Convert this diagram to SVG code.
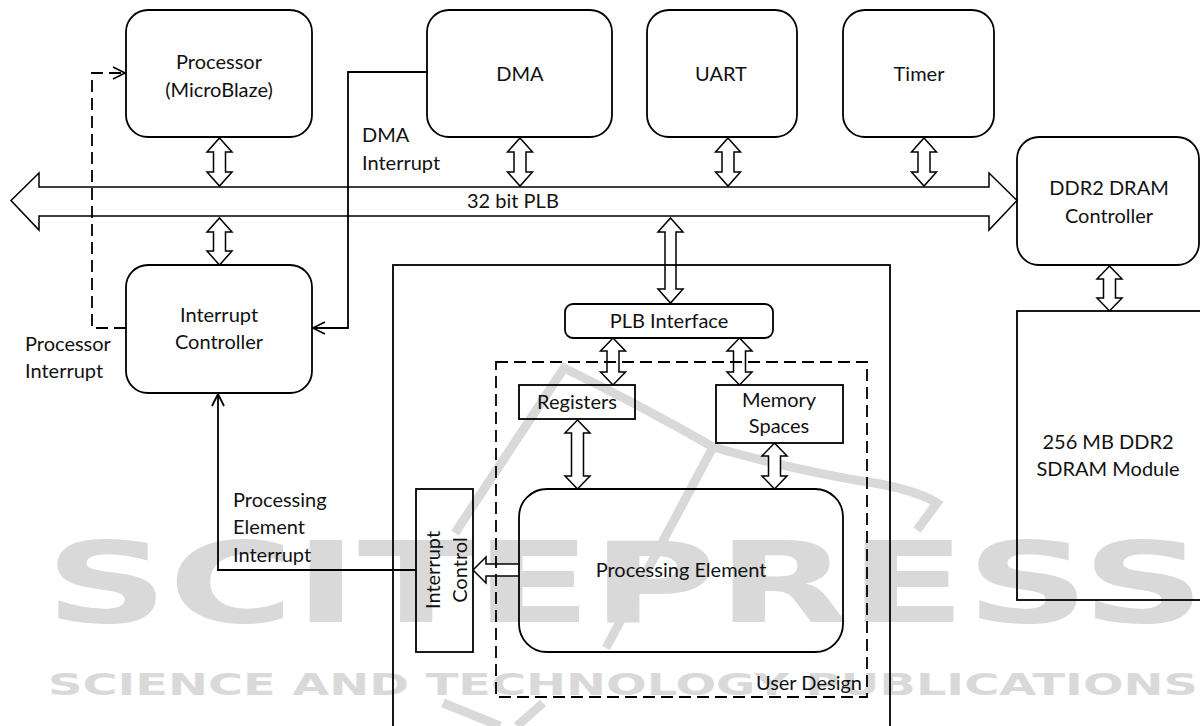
<svg xmlns="http://www.w3.org/2000/svg" width="1200" height="726" viewBox="0 0 1200 726">
<defs>
<style>
.box{fill:none;stroke:#000;stroke-width:1.8}
.dbl{fill:#fff;stroke:#000;stroke-width:1.5;stroke-linejoin:miter}
.ln{fill:none;stroke:#000;stroke-width:1.8}
.dash{fill:none;stroke:#000;stroke-width:1.8;stroke-dasharray:12 6}
.t{font-family:Lato,"Open Sans","Liberation Sans",sans-serif;font-size:20px;fill:#111}
.c{text-anchor:middle}
.wm{fill:#d9d9d9;font-family:"DejaVu Sans","Liberation Sans",sans-serif;font-weight:bold}
.wml{fill:none;stroke:#d9d9d9;stroke-width:9;stroke-linecap:butt}
</style>
<marker id="open" viewBox="0 0 14 14" refX="13" refY="7" markerWidth="14" markerHeight="14" markerUnits="userSpaceOnUse" orient="auto">
<path d="M1,1 L13,7 L1,13" fill="none" stroke="#000" stroke-width="1.8"/>
</marker>
</defs>
<rect width="1200" height="726" fill="#fff"/>

<g id="watermark">
<text class="wm" x="45" y="622" font-size="112" textLength="1160" lengthAdjust="spacingAndGlyphs">SCITEPRESS</text>
<text class="wm" x="48" y="695" font-size="31" textLength="1150" lengthAdjust="spacingAndGlyphs">SCIENCE AND TECHNOLOGY PUBLICATIONS</text>
<path class="wml" d="M455,533 L564,368 Q640,405 713,447 Q800,472 880,484 Q920,492 937,503 L917,530"/>
<path class="wml" d="M713,447 L606,648"/>
<path class="wml" d="M443,703 L500,726 M543,703 L517,726"/>
</g>

<g id="connectors">
<path id="bus" class="dbl" d="M11,200.5 L39,173 L39,187 L989,187 L989,173 L1017,200.5 L989,230 L989,216 L39,216 L39,230 Z"/>
<path class="dbl" d="M219.5,138 L232,152 L225.5,152 L225.5,172 L232,172 L219.5,186 L207,172 L213.5,172 L213.5,152 L207,152 Z"/>
<path class="dbl" d="M219.5,218 L232,232 L225.5,232 L225.5,251 L232,251 L219.5,265 L207,251 L213.5,251 L213.5,232 L207,232 Z"/>
<path class="dbl" d="M520,138 L532.5,152 L526,152 L526,172 L532.5,172 L520,186 L507.5,172 L514,172 L514,152 L507.5,152 Z"/>
<path class="dbl" d="M728,138 L740.5,152 L734,152 L734,172 L740.5,172 L728,186 L715.5,172 L722,172 L722,152 L715.5,152 Z"/>
<path class="dbl" d="M924,138 L936.5,152 L930,152 L930,172 L936.5,172 L924,186 L911.5,172 L918,172 L918,152 L911.5,152 Z"/>
<path class="dbl" d="M670.5,218 L683,232 L676,232 L676,289 L683,289 L670.5,303 L658,289 L665,289 L665,232 L658,232 Z"/>
<path class="dbl" d="M1109.5,266 L1122,279 L1115.5,279 L1115.5,298 L1122,298 L1109.5,311 L1097,298 L1103.5,298 L1103.5,279 L1097,279 Z"/>
<path class="dbl" d="M613,338 L625.5,351 L619,351 L619,372 L625.5,372 L613,385 L600.5,372 L607,372 L607,351 L600.5,351 Z"/>
<path class="dbl" d="M739.5,338 L752,351 L745.5,351 L745.5,372 L752,372 L739.5,385 L727,372 L733.5,372 L733.5,351 L727,351 Z"/>
<path class="dbl" d="M577.5,420 L590,433 L583.5,433 L583.5,476 L590,476 L577.5,489 L565,476 L571.5,476 L571.5,433 L565,433 Z"/>
<path class="dbl" d="M774.5,443 L787,456 L780.5,456 L780.5,476 L787,476 L774.5,489 L762,476 L768.5,476 L768.5,456 L762,456 Z"/>
<path class="dbl" d="M519,564 L486,564 L486,557 L473,570 L486,583 L486,576 L519,576"/>
<path class="ln" d="M427,72 L348,72 L348,328 L313,328" marker-end="url(#open)"/>
<path class="dash" d="M126,328 L92,328 L92,73 L125,73" marker-end="url(#open)"/>
<path class="ln" d="M416,570 L218,570 L218,394" marker-end="url(#open)"/>
</g>

<g id="processor">
<rect class="box" x="126" y="10" width="186" height="127" rx="22"/>
<text class="t c" x="219" y="69">Processor</text>
<text class="t c" x="219" y="97">(MicroBlaze)</text>
</g>
<g id="dma">
<rect class="box" x="427" y="10" width="185" height="127" rx="22"/>
<text class="t c" x="520" y="81">DMA</text>
</g>
<g id="uart">
<rect class="box" x="647" y="10" width="150" height="127" rx="22"/>
<text class="t c" x="721" y="81">UART</text>
</g>
<g id="timer">
<rect class="box" x="843" y="10" width="151" height="127" rx="22"/>
<text class="t c" x="919" y="81">Timer</text>
</g>
<g id="ddr2-controller">
<rect class="box" x="1017" y="137" width="182" height="128" rx="22"/>
<text class="t c" x="1109" y="195">DDR2 DRAM</text>
<text class="t c" x="1109" y="223">Controller</text>
</g>
<g id="sdram-module">
<rect class="box" x="1017" y="311" width="200" height="289"/>
<text class="t c" x="1108" y="449">256 MB DDR2</text>
<text class="t c" x="1108" y="476">SDRAM Module</text>
</g>
<g id="interrupt-controller">
<rect class="box" x="126" y="265" width="186" height="128" rx="22"/>
<text class="t c" x="219" y="322">Interrupt</text>
<text class="t c" x="219" y="349">Controller</text>
</g>
<g id="user-design">
<rect class="box" x="393" y="265" width="497" height="480"/>
<rect class="dash" x="496" y="362" width="371" height="335"/>
<text class="t" x="862" y="690" text-anchor="end">User Design</text>
</g>
<g id="plb-interface">
<rect class="box" x="565" y="304" width="208" height="34" rx="8"/>
<text class="t c" x="669" y="328">PLB Interface</text>
</g>
<g id="registers">
<rect class="box" x="519" y="385" width="116" height="34"/>
<text class="t c" x="577" y="409">Registers</text>
</g>
<g id="memory-spaces">
<rect class="box" x="716" y="385" width="127" height="58"/>
<text class="t c" x="779" y="407">Memory</text>
<text class="t c" x="779" y="433">Spaces</text>
</g>
<g id="processing-element">
<rect class="box" x="519" y="489" width="324" height="163" rx="28"/>
<text class="t c" x="681" y="577">Processing Element</text>
</g>
<g id="interrupt-control">
<rect class="box" x="416" y="489" width="57" height="163"/>
<text class="t c" transform="translate(440,570) rotate(-90)">Interrupt</text>
<text class="t c" transform="translate(467,570) rotate(-90)">Control</text>
</g>

<g id="labels">
<text class="t" x="467" y="208">32 bit PLB</text>
<text class="t" x="362" y="142">DMA</text>
<text class="t" x="362" y="170">Interrupt</text>
<text class="t" x="25" y="351">Processor</text>
<text class="t" x="25" y="378">Interrupt</text>
<text class="t" x="233" y="507">Processing</text>
<text class="t" x="233" y="534">Element</text>
<text class="t" x="233" y="562">Interrupt</text>
</g>
</svg>
